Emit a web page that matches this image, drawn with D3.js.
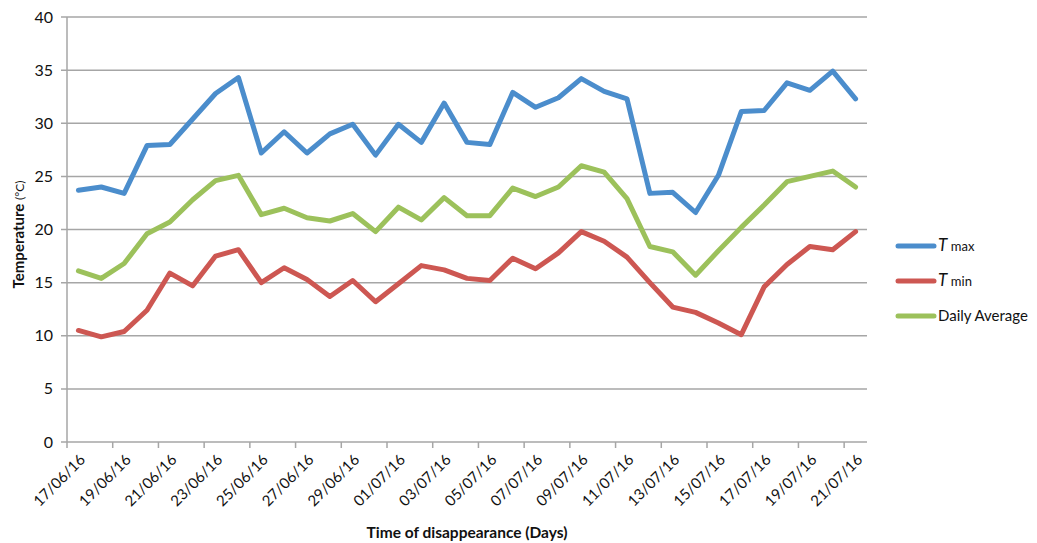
<!DOCTYPE html>
<html>
<head>
<meta charset="utf-8">
<script src="https://cdn.jsdelivr.net/npm/d3@7"></script>
<style>
  body { margin: 0; background: #fff; }
  text { font-family: Lato, "Open Sans", sans-serif; fill: #111; }
</style>
</head>
<body>
<div id="chart"></div>
<script>
const dates = [
  "17/06/16","18/06/16","19/06/16","20/06/16","21/06/16","22/06/16","23/06/16",
  "24/06/16","25/06/16","26/06/16","27/06/16","28/06/16","29/06/16","30/06/16",
  "01/07/16","02/07/16","03/07/16","04/07/16","05/07/16","06/07/16","07/07/16",
  "08/07/16","09/07/16","10/07/16","11/07/16","12/07/16","13/07/16","14/07/16",
  "15/07/16","16/07/16","17/07/16","18/07/16","19/07/16","20/07/16","21/07/16"
];

const tmax = [23.7, 24.0, 23.4, 27.9, 28.0, 30.4, 32.8, 34.3, 27.2, 29.2, 27.2, 29.0,
  29.9, 27.0, 29.9, 28.2, 31.9, 28.2, 28.0, 32.9, 31.5, 32.4, 34.2, 33.0, 32.3,
  23.4, 23.5, 21.6, 25.1, 31.1, 31.2, 33.8, 33.1, 34.9, 32.3];

const tmin = [10.5, 9.9, 10.4, 12.4, 15.9, 14.7, 17.5, 18.1, 15.0, 16.4, 15.3, 13.7,
  15.2, 13.2, 14.9, 16.6, 16.2, 15.4, 15.2, 17.3, 16.3, 17.8, 19.8, 18.9, 17.4,
  15.0, 12.7, 12.2, 11.2, 10.1, 14.6, 16.7, 18.4, 18.1, 19.8];

const daily = [16.1, 15.4, 16.8, 19.6, 20.7, 22.8, 24.6, 25.1, 21.4, 22.0, 21.1, 20.8,
  21.5, 19.8, 22.1, 20.9, 23.0, 21.3, 21.3, 23.9, 23.1, 24.0, 26.0, 25.4, 22.9,
  18.4, 17.9, 15.7, 18.0, 20.2, 22.3, 24.5, 25.0, 25.5, 24.0];

const yTicks = [0, 5, 10, 15, 20, 25, 30, 35, 40];

const series = [
  { name: "max", values: tmax, color: "#4b8dcc" },
  { name: "min", values: tmin, color: "#cd5752" },
  { name: "Daily Average", values: daily, color: "#9cc15b" }
];

const margin = { top: 17, right: 170, bottom: 101, left: 67 },
      width = 1037 - margin.left - margin.right,
      height = 543 - margin.top - margin.bottom;

const svg = d3.select("#chart")
  .append("svg")
  .attr("width", 1037)
  .attr("height", 543);

const g = svg.append("g")
  .attr("transform", `translate(${margin.left},${margin.top})`);

const x = d3.scaleBand()
  .domain(dates)
  .range([0, width]);

const y = d3.scaleLinear()
  .domain([0, 40])
  .range([height, 0]);

// gridlines
g.append("g")
  .selectAll("line")
  .data(yTicks)
  .join("line")
  .attr("x1", -6)
  .attr("x2", width)
  .attr("y1", d => y(d))
  .attr("y2", d => y(d))
  .attr("stroke", "#a6a6a6")
  .attr("stroke-width", 1.5);

// y labels
g.append("g")
  .selectAll("text")
  .data(yTicks)
  .join("text")
  .attr("x", -14)
  .attr("y", d => y(d))
  .attr("dy", "0.35em")
  .attr("text-anchor", "end")
  .style("font-size", "16px")
  .text(d => d);

// left axis line
g.append("line")
  .attr("x1", 0).attr("x2", 0)
  .attr("y1", 0).attr("y2", height)
  .attr("stroke", "#a6a6a6")
  .attr("stroke-width", 1.5);

// x ticks every second day
const tickDates = dates.filter((d, i) => i % 2 === 0);

g.append("g")
  .selectAll("line")
  .data(tickDates)
  .join("line")
  .attr("x1", d => x(d))
  .attr("x2", d => x(d))
  .attr("y1", height)
  .attr("y2", height + 6)
  .attr("stroke", "#a6a6a6")
  .attr("stroke-width", 1.5);

g.append("g")
  .selectAll("text")
  .data(tickDates)
  .join("text")
  .attr("transform", d => `translate(${x(d) + x.bandwidth() / 2 + 4},${height + 15}) rotate(-45)`)
  .attr("text-anchor", "end")
  .attr("dy", "0.35em")
  .style("font-size", "15px")
  .text(d => d);

// lines
const line = d3.line()
  .x((d, i) => x(dates[i]) + x.bandwidth() / 2)
  .y(d => y(d));

g.selectAll(".series")
  .data(series)
  .join("path")
  .attr("class", "series")
  .attr("d", d => line(d.values))
  .attr("fill", "none")
  .attr("stroke", d => d.color)
  .attr("stroke-width", 5)
  .attr("stroke-linejoin", "round")
  .attr("stroke-linecap", "round");

// axis titles
svg.append("text")
  .attr("transform", `translate(24,${margin.top + height / 2 + 5}) rotate(-90)`)
  .attr("text-anchor", "middle")
  .style("font-size", "15px")
  .style("font-weight", "bold")
  .html('Temperature <tspan style="font-weight:normal;font-size:12px">(°C)</tspan>');

svg.append("text")
  .attr("x", margin.left + width / 2)
  .attr("y", 538)
  .attr("text-anchor", "middle")
  .style("font-size", "15.5px")
  .style("font-weight", "bold")
  .text("Time of disappearance (Days)");

// legend
const legend = svg.append("g")
  .attr("transform", "translate(898,246)");

const item = legend.selectAll("g")
  .data(series)
  .join("g")
  .attr("transform", (d, i) => `translate(0,${i * 35})`);

item.append("line")
  .attr("x1", 0).attr("x2", 36)
  .attr("stroke", d => d.color)
  .attr("stroke-width", 5)
  .attr("stroke-linecap", "round");

item.each(function (d) {
  const t = d3.select(this).append("text")
    .attr("x", 40)
    .attr("dy", "0.35em")
    .style("font-size", "15px");
  if (d.name === "Daily Average") {
    t.text(d.name);
  } else {
    t.append("tspan").style("font-style", "italic").style("font-size", "17px").text("T ");
    t.append("tspan").style("font-size", "13px").text(d.name);
  }
});
</script>
</body>
</html>
